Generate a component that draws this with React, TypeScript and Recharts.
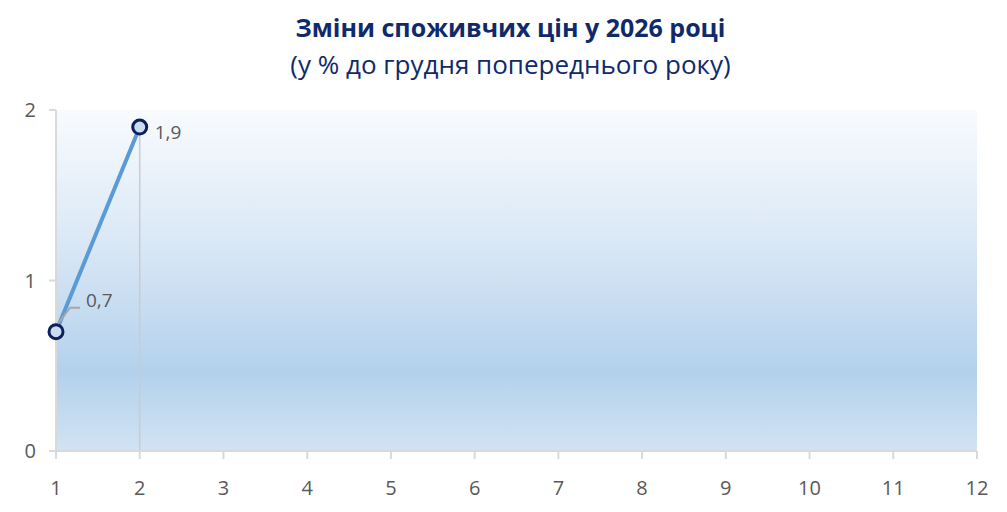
import React from 'react';
import { LineChart, Line, XAxis, YAxis, CartesianGrid, ReferenceLine, LabelList } from 'recharts';

// місяці 2026 року та значення індексу (у % до грудня попереднього року)
const months = [1, 2, 3, 4, 5, 6, 7, 8, 9, 10, 11, 12];
const cpiValues = [0.7, 1.9];
const yTicks = [0, 1, 2];

const data = cpiValues.map((v, i) => ({ month: months[i], value: v }));
const last = data[data.length - 1];

const FONT = '"Open Sans", "Noto Sans", sans-serif';

const PointLabel = (props: any) => {
  const { x, y, value, index } = props;
  const text = String(value).replace('.', ',');
  if (index === 0) {
    // підпис з виносною лінією
    return (
      <g>
        <polyline
          points={`${x + 2},${y - 8} ${x + 14},${y - 24} ${x + 24},${y - 24}`}
          fill="none"
          stroke="#a6a6a6"
          strokeWidth={2}
        />
        <text x={x + 30} y={y - 32} dy={7} fontSize={19} fill="#595959" fontFamily={FONT}>
          {text}
        </text>
      </g>
    );
  }
  return (
    <text x={x + 15} y={y + 5} dy={7} fontSize={19} fill="#595959" fontFamily={FONT}>
      {text}
    </text>
  );
};

const App: React.FC = () => {
  return (
    <div style={{ position: 'absolute', left: 0, top: 0, width: 1007, height: 512, background: '#fff' }}>
      <div
        style={{
          position: 'absolute',
          top: 9,
          left: 0,
          width: 1021,
          textAlign: 'center',
          fontFamily: FONT,
          color: '#0f2a6b',
        }}
      >
        <div style={{ fontSize: 25, fontWeight: 700, lineHeight: '36px' }}>Зміни споживчих цін у 2026 році</div>
        <div style={{ fontSize: 26, lineHeight: '38px' }}>(у % до грудня попереднього року)</div>
      </div>
      <LineChart
        width={1007}
        height={512}
        data={data}
        margin={{ top: 110, right: 30, left: 16, bottom: 31 }}
      >
        <defs>
          <linearGradient id="plotBg" x1="0" y1="0" x2="0" y2="1">
            <stop offset="0%" stopColor="#f8fbfe" />
            <stop offset="40%" stopColor="#d9e7f5" />
            <stop offset="77%" stopColor="#b3d1ec" />
            <stop offset="100%" stopColor="#d2e3f3" />
          </linearGradient>
        </defs>
        <CartesianGrid horizontal={false} vertical={false} fill="url(#plotBg)" stroke="none" />
        <XAxis
          type="number"
          dataKey="month"
          domain={[1, 12]}
          ticks={months}
          interval={0}
          axisLine={{ stroke: '#d9d9d9', strokeWidth: 2 }}
          tickLine={{ stroke: '#d9d9d9', strokeWidth: 2 }}
          tickSize={8}
          tickMargin={22}
          height={30}
          tick={{ fontSize: 20, fill: '#595959', fontFamily: FONT }}
        />
        <YAxis
          type="number"
          domain={[0, 2]}
          ticks={yTicks}
          width={40}
          axisLine={{ stroke: '#d9d9d9', strokeWidth: 2 }}
          tickLine={{ stroke: '#d9d9d9', strokeWidth: 2 }}
          tickSize={7}
          tickMargin={13}
          tick={{ fontSize: 20, fill: '#595959', fontFamily: FONT }}
        />
        <ReferenceLine
          segment={[
            { x: last.month, y: last.value },
            { x: last.month, y: 0 },
          ]}
          stroke="#c8ccd2"
          strokeWidth={1.5}
        />
        <Line
          type="linear"
          dataKey="value"
          stroke="#5b9bd5"
          strokeWidth={4}
          dot={{ r: 7, stroke: '#0d1f5c', strokeWidth: 3, fill: '#c9dcf0' }}
          activeDot={false}
          isAnimationActive={false}
        >
          <LabelList dataKey="value" content={PointLabel} />
        </Line>
      </LineChart>
    </div>
  );
};

export default App;
